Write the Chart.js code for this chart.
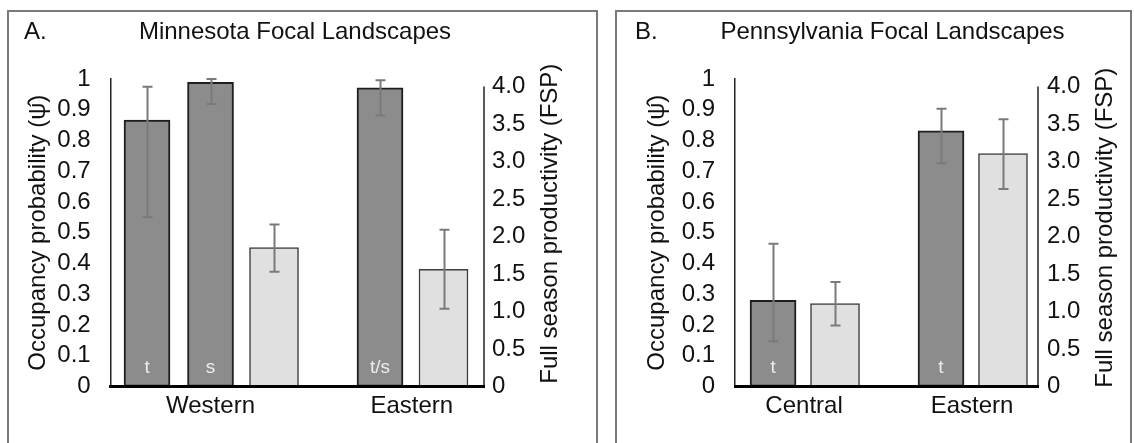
<!DOCTYPE html>
<html><head><meta charset="utf-8">
<script src="https://cdn.jsdelivr.net/npm/chart.js@4.4.1/dist/chart.umd.min.js"></script>
<style>
html,body{margin:0;padding:0;background:#fff;width:1134px;height:443px;overflow:hidden;position:relative;}
.box{position:absolute;top:10px;height:460px;border:2px solid #7a7a7a;box-sizing:border-box;}
#boxA{left:7px;width:591px;}
#boxB{left:615px;width:517px;}
canvas{position:absolute;top:10px;}
#chartA{left:7px;}
#chartB{left:615px;}
</style></head><body>
<div class="box" id="boxA"></div><div class="box" id="boxB"></div>
<canvas id="chartA" width="576" height="433"></canvas>
<canvas id="chartB" width="555" height="433"></canvas>
<script>
// ---------- data ----------
const occTickLabels = ['0','0.1','0.2','0.3','0.4','0.5','0.6','0.7','0.8','0.9','1'];
const fspTickLabels = ['0','0.5','1.0','1.5','2.0','2.5','3.0','3.5','4.0'];

// A. Minnesota
const mnGroups   = ['Western', 'Eastern'];
const mnOccGroup = [0, 0, 1];
const mnOccTag   = ['t', 's', 't/s'];
const mnOcc      = [0.866, 0.989, 0.971];
const mnOccLo    = [0.55, 0.919, 0.881];
const mnOccHi    = [0.975, 1.0, 0.996];
const mnFsp      = [1.85, 1.56];
const mnFspLo    = [1.53, 1.035];
const mnFspHi    = [2.16, 2.09];

// B. Pennsylvania
const paGroups   = ['Central', 'Eastern'];
const paOccGroup = [0, 1];
const paOccTag   = ['t', 't'];
const paOcc      = [0.28, 0.831];
const paOccLo    = [0.147, 0.726];
const paOccHi    = [0.464, 0.903];
const paFsp      = [1.104, 3.105];
const paFspLo    = [0.812, 2.633];
const paFspHi    = [1.392, 3.563];

// ---------- rendering ----------
const FAMILY = "'Liberation Sans', Arial, sans-serif";
Chart.defaults.font.family = FAMILY;
Chart.defaults.color = '#111';

function slotX(groups, occGroup, step) {
  const occX = [], fspX = [];
  groups.forEach((g, gi) => {
    const idx = occGroup.map((v, i) => v === gi ? i : -1).filter(i => i >= 0);
    const n = idx.length + 1;
    idx.forEach((bi, k) => { occX[bi] = gi + (k - (n - 1) / 2) * step; });
    fspX[gi] = gi + ((n - 1) - (n - 1) / 2) * step;
  });
  return {occX, fspX};
}

const errorBars = {
  id: 'errorBars',
  afterDatasetsDraw(chart) {
    const ctx = chart.ctx;
    chart.data.datasets.forEach((ds, di) => {
      if (!ds.errLo) return;
      const meta = chart.getDatasetMeta(di);
      const ys = chart.scales[ds.yAxisID];
      meta.data.forEach((bar, i) => {
        const x = Math.round(bar.x) + 0.5;
        const yLo = ys.getPixelForValue(ds.errLo[i]);
        const yHi = ys.getPixelForValue(ds.errHi[i]);
        ctx.save();
        ctx.strokeStyle = '#7a7a7a';
        ctx.lineWidth = 2;
        ctx.beginPath();
        ctx.moveTo(x, yLo); ctx.lineTo(x, yHi);
        ctx.moveTo(x - 5, yLo); ctx.lineTo(x + 5, yLo);
        ctx.moveTo(x - 5, yHi); ctx.lineTo(x + 5, yHi);
        ctx.stroke();
        ctx.restore();
      });
    });
  }
};

const barTags = {
  id: 'barTags',
  afterDatasetsDraw(chart) {
    const ctx = chart.ctx;
    chart.data.datasets.forEach((ds, di) => {
      if (!ds.tags) return;
      const meta = chart.getDatasetMeta(di);
      meta.data.forEach((bar, i) => {
        ctx.save();
        ctx.fillStyle = '#ececec';
        ctx.font = '19px ' + FAMILY;
        ctx.textAlign = 'center';
        ctx.textBaseline = 'middle';
        ctx.fillText(ds.tags[i], bar.x, bar.base - 19);
        ctx.restore();
      });
    });
  }
};

const rightAxis = {
  id: 'rightAxis',
  beforeDatasetsDraw(chart) {
    const y1 = chart.scales.y1;
    const last = y1.ticks[y1.ticks.length - 1].value;
    const ctx = chart.ctx;
    const x = chart.chartArea.right;
    ctx.save();
    ctx.strokeStyle = '#222';
    ctx.lineWidth = 1.5;
    ctx.beginPath();
    ctx.moveTo(x, y1.getPixelForValue(0));
    ctx.lineTo(x, y1.getPixelForValue(last));
    ctx.stroke();
    ctx.restore();
  },
  afterDraw(chart, args, opts) {
    // right-axis title, reading bottom-to-top as in the original
    const y1 = chart.scales.y1;
    const ca = chart.chartArea;
    const ctx = chart.ctx;
    ctx.save();
    ctx.fillStyle = '#111';
    ctx.font = '24px ' + FAMILY;
    ctx.textAlign = 'center';
    ctx.textBaseline = 'middle';
    ctx.translate(y1.right - opts.inset, (ca.top + ca.bottom) / 2 - opts.lift);
    ctx.rotate(-Math.PI / 2);
    ctx.fillText(opts.text, 0, 0);
    ctx.restore();
  }
};

const panelLetter = {
  id: 'panelLetter',
  afterDraw(chart, args, opts) {
    const ctx = chart.ctx;
    ctx.save();
    ctx.fillStyle = '#111';
    ctx.font = '24px ' + FAMILY;
    ctx.textAlign = 'left';
    ctx.textBaseline = 'middle';
    ctx.fillText(opts.text, opts.x, opts.y);
    ctx.restore();
  }
};

function makePanel(id, p) {
  const {occX, fspX} = slotX(p.groups, p.occGroup, p.step);
  const font = {family: FAMILY, size: 24, weight: 'normal'};
  return new Chart(document.getElementById(id), {
    type: 'bar',
    data: {
      datasets: [
        {
          label: 'Occupancy probability',
          data: p.occ.map((v, i) => ({x: occX[i], y: v})),
          yAxisID: 'y',
          grouped: false,
          barThickness: 46,
          backgroundColor: '#8c8c8c',
          borderColor: '#1e1e1e',
          borderWidth: 2,
          borderSkipped: false,
          errLo: p.occLo, errHi: p.occHi,
          tags: p.tags
        },
        {
          label: 'Full season productivity',
          data: p.fsp.map((v, i) => ({x: fspX[i], y: v})),
          yAxisID: 'y1',
          grouped: false,
          barThickness: 49,
          backgroundColor: '#e0e0e0',
          borderColor: '#3c3c3c',
          borderWidth: 1.5,
          borderSkipped: false,
          errLo: p.fspLo, errHi: p.fspHi
        }
      ]
    },
    options: {
      responsive: false,
      animation: false,
      layout: {padding: {left: 0, right: 0, top: 0, bottom: 16.6}},
      plugins: {
        legend: {display: false},
        tooltip: {enabled: false},
        title: {
          display: true, text: p.title, fullSize: true,
          font: font, color: '#111',
          padding: {top: 8, bottom: 32.2}
        },
        panelLetter: {text: p.letter, x: p.letterX, y: 22},
        rightAxis: {text: 'Full season productivity (FSP)', inset: p.rightInset, lift: p.rightLift}
      },
      scales: {
        x: {
          type: 'linear', min: p.xMin, max: p.xMax, offset: false, bounds: 'data',
          grid: {display: false, drawTicks: false},
          border: {display: true, color: '#000', width: 3, z: 1},
          afterBuildTicks: s => { s.ticks = p.groups.map((g, i) => ({value: i})); },
          ticks: {autoSkip: false, maxRotation: 0, padding: 5.6, color: '#111', font: font,
                  callback: (v, i) => p.groups[i]}
        },
        y: {
          type: 'linear', position: 'left', min: 0, max: 1,
          grid: {display: false, drawTicks: false},
          border: {display: true, color: '#222', width: 1.5},
          afterBuildTicks: s => { s.ticks = occTickLabels.map(t => ({value: parseFloat(t)})); },
          ticks: {autoSkip: false, padding: 20, color: '#111', font: font,
                  callback: (v, i) => occTickLabels[i]},
          title: {display: true, text: 'Occupancy probability (\u03C8\u0302)', color: '#111', font: font,
                  padding: {top: p.leftTitlePad, bottom: 0}},
          afterFit: s => { s.width = p.leftWidth; }
        },
        y1: {
          type: 'linear', position: 'right', min: 0, max: 4.1,
          grid: {display: false, drawTicks: false},
          border: {display: false},
          afterBuildTicks: s => { s.ticks = fspTickLabels.map(t => ({value: parseFloat(t)})); },
          ticks: {autoSkip: false, padding: p.rightTickPad, color: '#111', font: font,
                  callback: (v, i) => fspTickLabels[i]},
          title: {display: false},
          afterFit: s => { s.width = p.rightWidth; }
        }
      }
    },
    plugins: [rightAxis, errorBars, barTags, panelLetter]
  });
}

makePanel('chartA', {
  title: 'Minnesota Focal Landscapes', letter: 'A.', letterX: 17,
  groups: mnGroups, occGroup: mnOccGroup, tags: mnOccTag,
  occ: mnOcc, occLo: mnOccLo, occHi: mnOccHi,
  fsp: mnFsp, fspLo: mnFspLo, fspHi: mnFspHi,
  step: 0.3155, xMin: -0.496, xMax: 1.359,
  leftWidth: 103.7, leftTitlePad: 16.6, rightTickPad: 8, rightWidth: 99, rightInset: 33, rightLift: 9
});

makePanel('chartB', {
  title: 'Pennsylvania Focal Landscapes', letter: 'B.', letterX: 20,
  groups: paGroups, occGroup: paOccGroup, tags: paOccTag,
  occ: paOcc, occLo: paOccLo, occHi: paOccHi,
  fsp: paFsp, fspLo: paFspLo, fspHi: paFspHi,
  step: 0.369, xMin: -0.411, xMax: 1.393,
  leftWidth: 120, leftTitlePad: 27.6, rightTickPad: 9, rightWidth: 132, rightInset: 65, rightLift: 5
});
</script>
</body></html>
